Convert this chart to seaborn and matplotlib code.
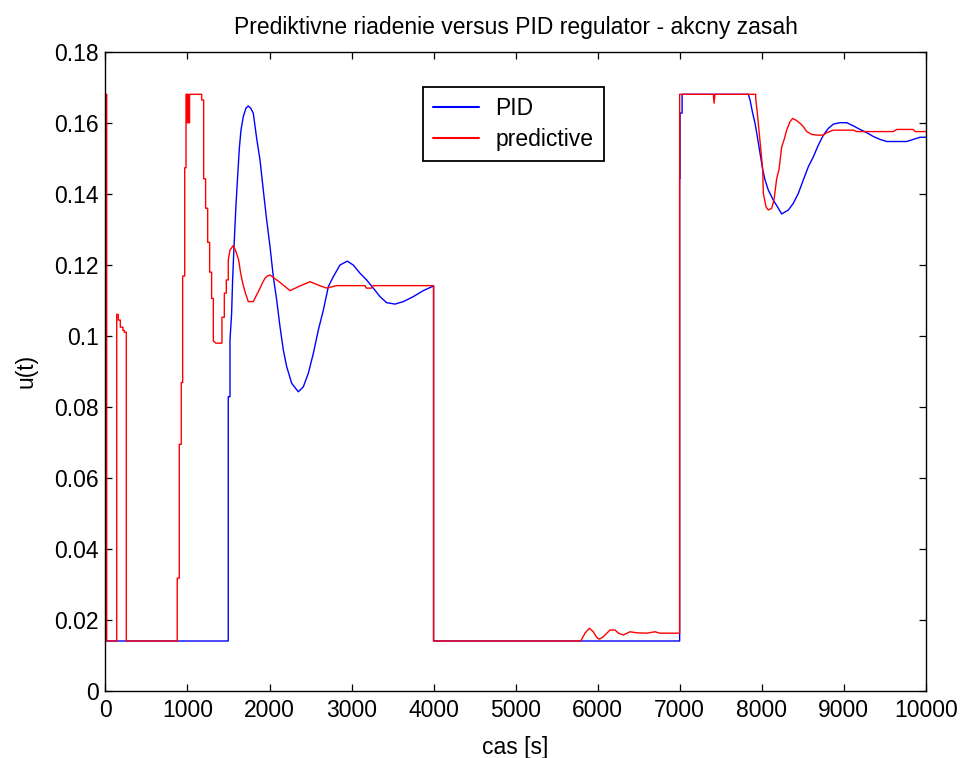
import numpy as np
import pandas as pd
import matplotlib
matplotlib.use("Agg")
import matplotlib.pyplot as plt
import seaborn as sns

# Control signal u(t) of the PID loop: (time [s], value) pairs, jumps given as repeated times
pid_t = [0, 1497, 1497, 1518, 1518, 1538, 1550, 1567, 1591, 1611, 1632, 1652, 1680,
         1713, 1741, 1770, 1802, 1843, 1884, 1924, 1965, 2006, 2046, 2087, 2128, 2168,
         2209, 2270, 2351, 2412, 2473, 2534, 2595, 2656, 2717, 2777, 2859, 2948, 3021,
         3103, 3184, 3265, 3347, 3428, 3530, 3631, 3753, 3875, 4000, 4000,
         7000, 7000, 7005, 7005, 7030, 7030, 7837, 7858, 7890, 7919, 7947, 7980, 8013,
         8041, 8081, 8142, 8203, 8244, 8325, 8386, 8447, 8508, 8569, 8630, 8691, 8752,
         8813, 8874, 8955, 9037, 9118, 9199, 9280, 9362, 9443, 9524, 9768, 9849, 9930,
         10000]
pid_u = [0.014, 0.014, 0.0828, 0.0828, 0.0988, 0.1063, 0.1157, 0.1251, 0.1368, 0.1448,
         0.1528, 0.1579, 0.1617, 0.1641, 0.1647, 0.1641, 0.1627, 0.1556, 0.1495, 0.1410,
         0.1326, 0.1251, 0.1166, 0.1101, 0.1025, 0.0960, 0.0913, 0.0866, 0.0842, 0.0856,
         0.0894, 0.0950, 0.1016, 0.1072, 0.1138, 0.1166, 0.1199, 0.1210, 0.1199, 0.1176,
         0.1157, 0.1134, 0.1110, 0.1093, 0.1089, 0.1096, 0.1110, 0.1127, 0.1140, 0.014,
         0.014, 0.1443, 0.1443, 0.1627, 0.1627, 0.168, 0.168, 0.1664, 0.1627, 0.1598,
         0.1561, 0.1514, 0.1467, 0.1439, 0.1410, 0.1382, 0.1359, 0.1343, 0.1354, 0.1373,
         0.1401, 0.1439, 0.1476, 0.1504, 0.1537, 0.1565, 0.1584, 0.1596, 0.1600, 0.1600,
         0.1591, 0.1581, 0.1572, 0.1561, 0.1553, 0.1547, 0.1547, 0.1553, 0.1559, 0.1559]

# Control signal u(t) of the predictive controller
pred_t = [0, 0, 15, 15, 137, 137, 156, 156, 181, 181, 213, 213, 229, 229, 254, 254,
          875, 875, 900, 900, 924, 924, 941, 941, 966, 966, 982, 982,
          995, 995, 1000, 1000, 1008, 1008, 1025, 1025,
          1173, 1173, 1197, 1197, 1221, 1221, 1246, 1246, 1270, 1270, 1294, 1294,
          1315, 1315, 1347, 1404, 1420, 1420, 1449, 1449, 1473, 1473, 1497, 1497,
          1518, 1558, 1591, 1624, 1648, 1673, 1701, 1741, 1802, 1843, 1875, 1912,
          1945, 1973, 2006, 2128, 2250, 2370, 2494, 2600, 2697, 2817, 3164, 3180, 3246,
          3262, 4000, 4000, 5794, 5846, 5899, 5947, 5989, 6021, 6069, 6151, 6212, 6253,
          6314, 6395, 6476, 6598, 6700, 6761, 7000, 7000, 7410, 7420, 7430, 7927, 7927,
          7947, 7971, 7992, 8013, 8020, 8053, 8081, 8122, 8150, 8183, 8211, 8244, 8272,
          8305, 8346, 8378, 8427, 8468, 8508, 8549, 8610, 8671, 8752, 8793, 8874, 9118,
          9159, 9605, 9646, 9849, 9870, 10000]
pred_u = [0.014, 0.168, 0.168, 0.014, 0.014, 0.1060, 0.1060, 0.1044, 0.1044, 0.1024,
          0.1024, 0.1015, 0.1015, 0.1010, 0.1010, 0.014,
          0.014, 0.0317, 0.0317, 0.0694, 0.0694, 0.0868, 0.0868, 0.1168, 0.1168, 0.1473,
          0.1473, 0.168,
          0.168, 0.160, 0.160, 0.168, 0.168, 0.160, 0.160, 0.168,
          0.168, 0.1664, 0.1664, 0.1442, 0.1442, 0.1359, 0.1359, 0.1263, 0.1263, 0.1179,
          0.1179, 0.1105, 0.1105, 0.0985, 0.0979, 0.0979, 0.0979, 0.1052, 0.1052, 0.1120,
          0.1120, 0.1157, 0.1157, 0.1213, 0.1241, 0.1254, 0.1237, 0.1213, 0.1176, 0.1148,
          0.1124, 0.1096, 0.1096, 0.1115, 0.1129, 0.1148, 0.1162, 0.1168, 0.1171, 0.1150,
          0.1127, 0.1140, 0.1152, 0.1142, 0.1134, 0.1141, 0.1141, 0.1134, 0.1134, 0.1141,
          0.1141, 0.014, 0.014, 0.0162, 0.0176, 0.0166, 0.0150, 0.0145, 0.0152, 0.0171,
          0.0171, 0.0162, 0.0157, 0.0166, 0.0163, 0.0162, 0.0166, 0.0162, 0.0162, 0.168,
          0.168, 0.1655, 0.168, 0.168, 0.1669, 0.1627, 0.1570, 0.1518, 0.1467, 0.1401,
          0.1363, 0.1354, 0.1359, 0.1382, 0.1443, 0.1467, 0.1532, 0.1551, 0.1579, 0.1603,
          0.1612, 0.1606, 0.1598, 0.1589, 0.1575, 0.1567, 0.1565, 0.1565, 0.1572, 0.1579,
          0.1579, 0.1575, 0.1575, 0.1581, 0.1581, 0.1575, 0.1575]

x_ticks = [0, 1000, 2000, 3000, 4000, 5000, 6000, 7000, 8000, 9000, 10000]
y_ticks = [0, 0.02, 0.04, 0.06, 0.08, 0.10, 0.12, 0.14, 0.16, 0.18]
y_tick_labels = ["0", "0.02", "0.04", "0.06", "0.08", "0.1", "0.12", "0.14", "0.16", "0.18"]

df = pd.concat([
    pd.DataFrame({"t": pid_t, "u": pid_u, "series": "PID"}),
    pd.DataFrame({"t": pred_t, "u": pred_u, "series": "predictive"}),
], ignore_index=True)

sns.set_style("ticks")
plt.rcParams["font.family"] = ["Liberation Sans", "DejaVu Sans"]
plt.rcParams["text.color"] = "black"
plt.rcParams["axes.labelcolor"] = "black"

fig = plt.figure(figsize=(9.65, 7.58), dpi=100)
ax = fig.add_axes([0.1093, 0.0888, 0.8500, 0.8430])

sns.lineplot(data=df, x="t", y="u", hue="series", hue_order=["PID", "predictive"],
             palette={"PID": "#0000ff", "predictive": "#ff0000"},
             estimator=None, sort=False, linewidth=1.0, ax=ax)

ax.set_xlim(0, 10000)
ax.set_ylim(0, 0.18)
ax.set_xticks(x_ticks)
ax.set_xticklabels([str(v) for v in x_ticks])
ax.set_yticks(y_ticks)
ax.set_yticklabels(y_tick_labels)
ax.tick_params(direction="in", top=True, right=True, length=5, width=0.9,
               labelsize=16.5, color="black", labelcolor="black")
ax.tick_params(axis="x", pad=6)
ax.tick_params(axis="y", pad=5)
for sp in ax.spines.values():
    sp.set_visible(True)
    sp.set_color("black")
    sp.set_linewidth(1.0)

ax.set_xlabel("cas [s]", fontsize=16.5, labelpad=10, color="black")
ax.set_ylabel("u(t)", fontsize=16.5, labelpad=12, color="black")
ax.set_title("Prediktivne riadenie versus PID regulator - akcny zasah",
             fontsize=16.5, pad=13, color="black")

leg = ax.legend(loc="upper left", bbox_to_anchor=(0.3867, 0.9452), borderaxespad=0,
                fontsize=16.5, frameon=True, fancybox=False, framealpha=1,
                edgecolor="black", handlelength=2.0, handletextpad=0.72,
                labelspacing=0.35, borderpad=0.45, title=None)
leg.get_frame().set_linewidth(1.3)
for text in leg.get_texts():
    text.set_color("black")
for line in leg.get_lines():
    line.set_linewidth(1.5)

fig.savefig("out.png", dpi=100, facecolor="white")
